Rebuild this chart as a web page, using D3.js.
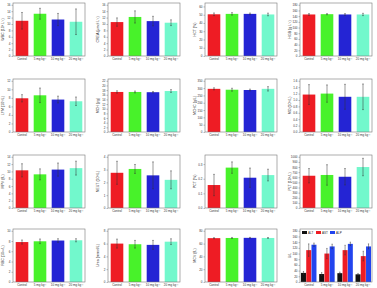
<!DOCTYPE html>
<html><head><meta charset="utf-8">
<script src="https://cdn.jsdelivr.net/npm/d3@7"></script>
<style>body{margin:0;background:#fff}svg{display:block;font-family:Arial,"Liberation Sans",sans-serif}</style>
</head><body><svg id="c" width="377" height="288"></svg>
<script>
const groups = ["Control", "5 mg kg⁻¹", "10 mg kg⁻¹", "20 mg kg⁻¹"];
const titles = ["WBC (10⁹ L⁻¹)", "CREA (μmol L⁻¹)", "HCT (%)", "HGB (g L⁻¹)",
  "LYM (10⁹/L)", "MCH (pg)", "MCHC (g/L)", "MO (10⁹/L)",
  "MPV (fL)", "NEUT (10⁹/L)", "PCT (%)", "PLT (10⁹/L)",
  "RBC (10¹²/L)", "Urea (mmol/L)", "MCV (fL)", "U/L"];
const yMax  = [16, 16, 62, 180, 12, 22, 350, 1.6, 14, 4, 0.35, 1000, 10, 8, 80, 180];
const yStep = [2, 2, 10, 20, 2, 2, 50, 0.2, 2, 1, 0.1, 100, 2, 2, 20, 20];
const means = [
  [11.0, 13.2, 11.4, 10.7], [10.6, 12.2, 10.9, 10.4], [50.5, 51.0, 51.0, 50.3], [146, 147, 146, 146],
  [7.9, 8.6, 7.6, 7.2], [17.2, 17.2, 17.1, 17.6], [295, 289, 287, 295], [1.17, 1.2, 1.1, 1.1],
  [10.3, 9.2, 10.5, 10.9], [2.75, 3.05, 2.55, 2.2], [0.157, 0.276, 0.207, 0.225], [630, 645, 610, 800],
  [7.8, 7.95, 8.1, 8.15], [6.0, 5.9, 5.8, 6.3], [68.5, 68.8, 69.0, 68.8]];
const errs = [
  [2.6, 1.7, 1.9, 4.0], [1.3, 1.9, 1.5, 0.9], [1.6, 1.5, 1.0, 1.6], [3, 2, 3, 4],
  [0.85, 1.7, 0.8, 1.0], [0.5, 0.4, 0.3, 0.6], [7, 10, 6, 15], [0.31, 0.27, 0.39, 0.4],
  [1.8, 1.5, 1.8, 1.9], [0.9, 0.35, 1.05, 0.7], [0.073, 0.039, 0.066, 0.04], [140, 200, 160, 170],
  [0.4, 0.45, 0.35, 0.3], [0.7, 0.6, 0.7, 0.45], [0.8, 0.8, 0.7, 0.7]];
const enzymes = ["ALT", "AST", "ALP"];
const ALT = [32, 28, 31, 27], ALT_SD = [5, 5, 4, 3];
const AST = [112, 100, 112, 91], AST_SD = [22, 18, 17, 17];
const ALP = [131, 125, 134, 125], ALP_SD = [6, 8, 6, 9];
const barColors = ["#ee1c24", "#48f22a", "#2424d4", "#72f8cc"];
const enzColors = ["#111111", "#ee1c24", "#2244ee"];

const svg = d3.select("#c");
const colX = [13, 108, 205, 300], rowY = [3, 79, 155, 229], W = 72, H = 53;

function frame(g, i, y) {
  const ticks = d3.range(0, yMax[i] + 1e-9, yStep[i]);
  const dec = yStep[i] < 1 ? 1 : 0;
  g.append("g").call(d3.axisLeft(y).tickValues(ticks).tickSize(1.5).tickPadding(1)
      .tickFormat(d => d3.format("." + dec + "f")(d)))
    .call(a => a.select(".domain").remove())
    .call(a => a.selectAll("line").attr("stroke", "#555").attr("stroke-width", 0.4))
    .call(a => a.selectAll("text").attr("font-size", 3).attr("fill", "#333"));
  g.append("rect").attr("width", W).attr("height", H).attr("fill", "none")
    .attr("stroke", "#777").attr("stroke-width", 0.6);
  g.append("text").attr("transform", `translate(-9,${H / 2}) rotate(-90)`)
    .attr("text-anchor", "middle").attr("font-size", 3.6).attr("fill", "#333").text(titles[i]);
}
function errBar(g, cx, top, bot, cap) {
  g.append("line").attr("x1", cx).attr("x2", cx).attr("y1", top).attr("y2", bot)
    .attr("stroke", "#333").attr("stroke-width", 0.5);
  [top, bot].forEach(v => g.append("line").attr("x1", cx - cap).attr("x2", cx + cap)
    .attr("y1", v).attr("y2", v).attr("stroke", "#333").attr("stroke-width", 0.5));
}

for (let i = 0; i < 16; i++) {
  const g = svg.append("g").attr("transform", `translate(${colX[i % 4]},${rowY[Math.floor(i / 4)]})`);
  const y = d3.scaleLinear().domain([0, yMax[i] * 1.035]).range([H, 0]);
  const x = d3.scaleBand().domain(groups).range([0, W]).paddingInner(0.3).paddingOuter(0.15);
  if (i < 15) {
    groups.forEach((grp, k) => {
      g.append("rect").attr("x", x(grp)).attr("y", y(means[i][k])).attr("width", x.bandwidth())
        .attr("height", H - y(means[i][k])).attr("fill", barColors[k]);
      errBar(g, x(grp) + x.bandwidth() / 2, y(means[i][k] + errs[i][k]), y(Math.max(0, means[i][k] - errs[i][k])), 0.8);
    });
  } else {
    const xg = d3.scaleBand().domain(groups).range([0, W]).paddingInner(0.12).paddingOuter(0.04);
    const xs = d3.scaleBand().domain(enzymes).range([0, xg.bandwidth()]).padding(0.05);
    const vals = [ALT, AST, ALP], sds = [ALT_SD, AST_SD, ALP_SD];
    groups.forEach((grp, k) => {
      enzymes.forEach((e, j) => {
        const bx = xg(grp) + xs(e);
        g.append("rect").attr("x", bx).attr("y", y(vals[j][k])).attr("width", xs.bandwidth())
          .attr("height", H - y(vals[j][k])).attr("fill", enzColors[j]);
        errBar(g, bx + xs.bandwidth() / 2, y(vals[j][k] + sds[j][k]), y(vals[j][k] - sds[j][k]), 0.6);
      });
    });
    // legend
    enzymes.forEach((e, j) => {
      const lx = 2 + j * 14;
      g.append("rect").attr("x", lx).attr("y", 2).attr("width", 5).attr("height", 3).attr("fill", enzColors[j]);
      g.append("text").attr("x", lx + 6).attr("y", 4.8).attr("font-size", 3).attr("fill", "#222").text(e);
    });
  }
  frame(g, i, y);
  groups.forEach(grp => g.append("text").attr("x", x(grp) + x.bandwidth() / 2).attr("y", H + 4.3)
    .attr("text-anchor", "middle").attr("font-size", 3).attr("fill", "#333").text(grp));
}
</script></body></html>
